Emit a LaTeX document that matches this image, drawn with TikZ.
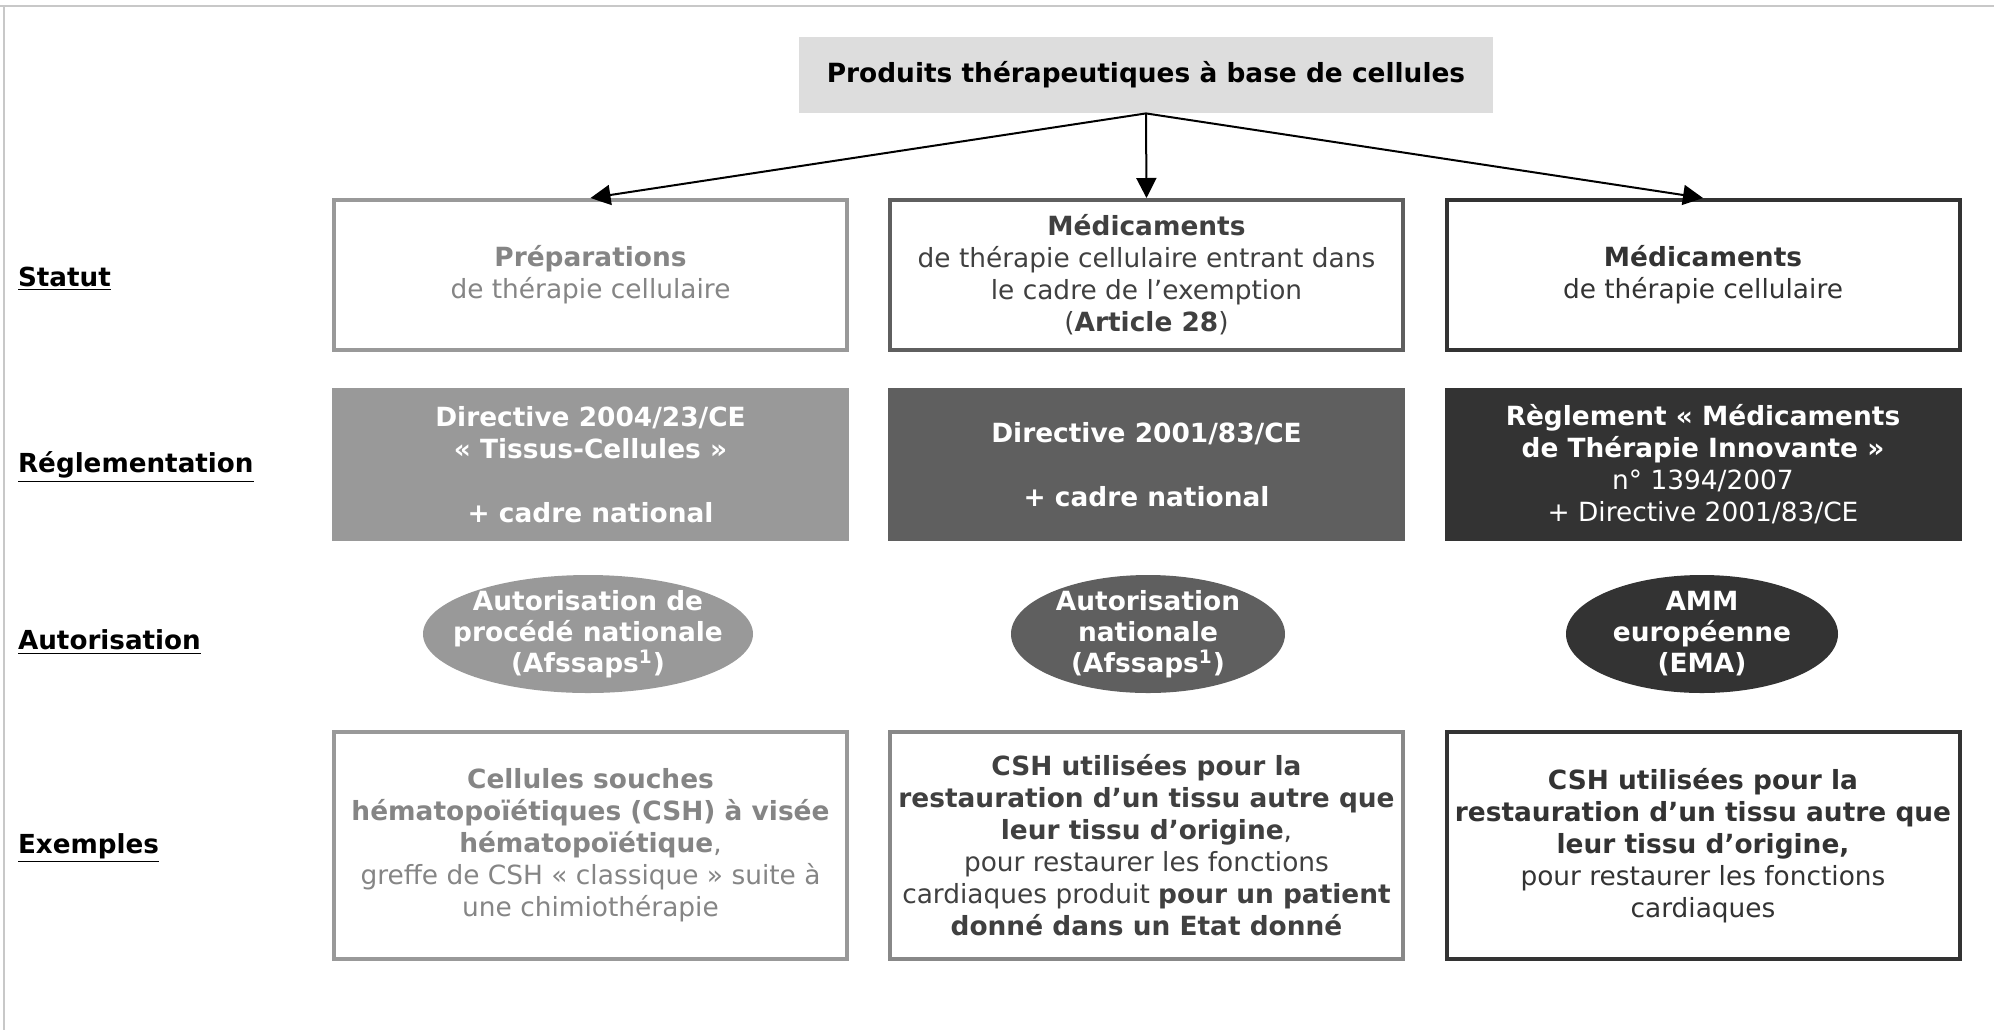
\documentclass[tikz,border=0pt]{standalone}
\usepackage{fontspec}
\setmainfont{DejaVu Sans}
\usetikzlibrary{arrows.meta, positioning, shapes.geometric}
\definecolor{cellTop}{HTML}{DDDDDD}
\definecolor{cellLight}{HTML}{999999}
\definecolor{cellMid}{HTML}{5F5F5F}
\definecolor{cellDark}{HTML}{333333}
\definecolor{cellEdge}{HTML}{888888}
\definecolor{textLight}{HTML}{858585}
\definecolor{textMid}{HTML}{404040}
\definecolor{frameGray}{HTML}{C8C8C8}
\tikzset{
  arrowK/.style={-{Triangle[length=10pt, width=10pt]}, black, line width=1pt},
  rowLabel/.style={anchor=west, font=\fontsize{13.1}{15}\selectfont\bfseries},
  boxTop/.style={rectangle, fill=cellTop, minimum width=347pt, minimum height=38pt,
                 inner sep=0pt, font=\fontsize{13.2}{16}\selectfont\bfseries},
  boxStat/.style={rectangle, draw=#1, line width=2pt, fill=white, align=center,
                  minimum width=256.5pt, minimum height=75pt, inner sep=2pt,
                  font=\fontsize{13.2}{16}\selectfont},
  boxReg/.style={rectangle, fill=#1, text=white, align=center,
                 minimum width=258.5pt, minimum height=76.5pt, inner sep=2pt,
                 font=\fontsize{13.2}{16}\selectfont},
  ellAut/.style={ellipse, fill=#1, inner sep=0pt, minimum height=59pt},
  ellText/.style={text=white, align=center, inner sep=0pt,
                  font=\fontsize{13.2}{15.5}\selectfont\bfseries},
  boxEx/.style={rectangle, draw=#1, line width=2pt, fill=white, align=center,
                minimum width=256.5pt, minimum height=113.5pt, inner sep=2pt,
                font=\fontsize{13.2}{16}\selectfont},
}

\begin{document}
\begin{tikzpicture}[x=0.5pt, y=-0.5pt]
    \useasboundingbox (0,0) rectangle (1994,1030);
    % cadre
    \draw[frameGray, line width=1pt] (0,6) -- (1994,6);
    \draw[frameGray, line width=1pt] (4,6) -- (4,1030);

    % titres des lignes
    \node[rowLabel] (lStat) at (11,279) {\underline{Statut}};
    \node[rowLabel] (lReg) at (11,467) {\underline{Réglementation}};
    \node[rowLabel] (lAut) at (11,642) {\underline{Autorisation}};
    \node[rowLabel] (lEx) at (11,848) {\underline{Exemples}};

    % racine
    \node[boxTop] (prod) at (1146,75) {Produits thérapeutiques à base de cellules};

    % statut
    \node[boxStat=cellLight, text=textLight] (stat1) at (590.5,275)
      {\textbf{Préparations}\\de thérapie cellulaire};
    \node[boxStat=cellMid, text=textMid] (stat2) at (1146.5,275)
      {\textbf{Médicaments}\\de thérapie cellulaire entrant dans\\le cadre de l’exemption\\(\textbf{Article 28})};
    \node[boxStat=cellDark, text=cellDark] (stat3) at (1703,275)
      {\textbf{Médicaments}\\de thérapie cellulaire};

    \draw[arrowK] (prod.south) -- (stat1.north);
    \draw[arrowK] (prod.south) -- (stat2.north);
    \draw[arrowK] (prod.south) -- (stat3.north);

    % reglementation
    \node[boxReg=cellLight] (reg1) at (590.5,464.5)
      {\textbf{Directive 2004/23/CE}\\\textbf{« Tissus-Cellules »}\\\mbox{}\\\textbf{+ cadre national}};
    \node[boxReg=cellMid] (reg2) at (1146.5,464.5)
      {\textbf{Directive 2001/83/CE}\\\mbox{}\\\textbf{+ cadre national}};
    \node[boxReg=cellDark] (reg3) at (1703,464.5)
      {\textbf{Règlement « Médicaments}\\\textbf{de Thérapie Innovante »}\\n° 1394/2007\\+ Directive 2001/83/CE};

    % autorisation
    \node[ellAut=cellLight, minimum width=165pt] (aut1) at (588,634) {};
    \node[ellText] (aut1t) at (aut1) {Autorisation de\\procédé nationale\\(Afssaps\textsuperscript{1})};
    \node[ellAut=cellMid, minimum width=137pt] (aut2) at (1148,634) {};
    \node[ellText] (aut2t) at (aut2) {Autorisation\\nationale\\(Afssaps\textsuperscript{1})};
    \node[ellAut=cellDark, minimum width=136pt] (aut3) at (1702,634) {};
    \node[ellText] (aut3t) at (aut3) {AMM\\européenne\\(EMA)};

    % exemples
    \node[boxEx=cellLight, text=textLight] (ex1) at (590.5,845.5)
      {\textbf{Cellules souches}\\\textbf{hématopoïétiques (CSH) à visée}\\\textbf{hématopoïétique},\\greffe de CSH « classique » suite à\\une chimiothérapie};
    \node[boxEx=cellEdge, text=textMid] (ex2) at (1146.5,845.5)
      {\textbf{CSH utilisées pour la}\\\textbf{restauration d’un tissu autre que}\\\textbf{leur tissu d’origine},\\pour restaurer les fonctions\\cardiaques produit \textbf{pour un patient}\\\textbf{donné dans un Etat donné}};
    \node[boxEx=cellDark, text=cellDark] (ex3) at (1703,845.5)
      {\textbf{CSH utilisées pour la}\\\textbf{restauration d’un tissu autre que}\\\textbf{leur tissu d’origine,}\\pour restaurer les fonctions\\cardiaques};
\end{tikzpicture}
\end{document}
